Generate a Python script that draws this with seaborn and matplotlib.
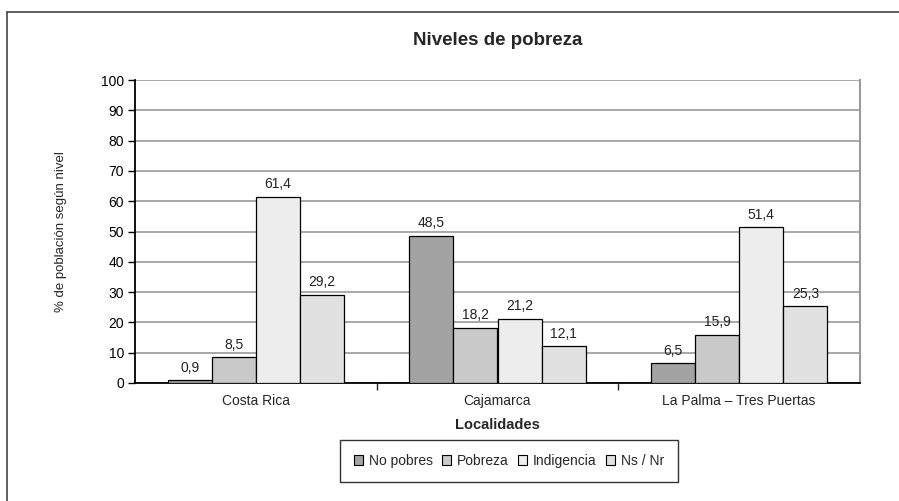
import pandas as pd
import seaborn as sns
import matplotlib.pyplot as plt
from matplotlib.patches import Patch
from matplotlib.lines import Line2D

# data
localidades = ["Costa Rica", "Cajamarca", "La Palma \u2013 Tres Puertas"]
niveles = ["No pobres", "Pobreza", "Indigencia", "Ns / Nr"]
no_pobres = [0.9, 48.5, 6.5]
pobreza = [8.5, 18.2, 15.9]
indigencia = [61.4, 21.2, 51.4]
ns_nr = [29.2, 12.1, 25.3]

colores = ["#a3a3a3", "#c9c9c9", "#ededed", "#e1e1e1"]

df = pd.DataFrame({
    "Localidad": localidades * 4,
    "Nivel": [n for n in niveles for _ in localidades],
    "Valor": no_pobres + pobreza + indigencia + ns_nr,
})

sns.set_theme(style="white")
plt.rcParams["font.family"] = ["Liberation Sans", "DejaVu Sans"]

fig = plt.figure(figsize=(8.99, 5.01), dpi=100)
ax = fig.add_axes([135 / 899, 1 - 383 / 501, 725 / 899, 303 / 501])

sns.barplot(data=df, x="Localidad", y="Valor", hue="Nivel", order=localidades,
            hue_order=niveles, palette=colores, edgecolor="black", linewidth=0.9,
            width=0.73, gap=0, saturation=1, ax=ax, legend=False, zorder=3)

for cont in ax.containers:
    labs = [f"{v:.1f}".replace(".", ",") for v in cont.datavalues]
    ax.bar_label(cont, labels=labs, padding=4, fontsize=10, color="#222222")

ax.set_ylim(0, 100)
ax.set_yticks(range(0, 101, 10))
ax.set_xlim(-0.5, 2.5)
ax.yaxis.grid(True, color="#9a9a9a", linewidth=1.2, zorder=0)
ax.set_axisbelow(True)

for s in ["left", "bottom"]:
    ax.spines[s].set_color("black")
    ax.spines[s].set_linewidth(1.3)
ax.spines["top"].set_visible(False)
ax.spines["right"].set_color("#9a9a9a")
ax.spines["right"].set_linewidth(1.5)

ax.tick_params(axis="y", left=True, direction="out", length=5, width=1,
               labelsize=10, colors="black", pad=3)
ax.tick_params(axis="x", bottom=False, labelsize=10, pad=2)
# small separators between categories on the x axis
ax.set_xticks([0.5, 1.5], minor=True)
ax.tick_params(axis="x", which="minor", bottom=True, direction="out", length=5, width=1)

ax.set_ylabel("% de población según nivel", fontsize=9.5, labelpad=24)
ax.set_xlabel("Localidades", fontsize=10.5, fontweight="bold", labelpad=7)
ax.set_title("Niveles de pobreza", fontsize=13.5, fontweight="bold", pad=25)

handles = [Patch(facecolor=c, edgecolor="black", linewidth=0.8) for c in colores]
leg = fig.legend(handles, niveles, loc="center", bbox_to_anchor=(509 / 899, 1 - 461 / 501),
                 ncol=4, fontsize=10, frameon=True, fancybox=False, handlelength=0.65,
                 handleheight=0.65, handletextpad=0.4, columnspacing=0.7,
                 borderpad=1.0, edgecolor="black")
leg.get_frame().set_linewidth(1.0)

# outer frame (top and left edges)
fig.add_artist(Line2D([7 / 899, 7 / 899], [0, 1 - 12 / 501], transform=fig.transFigure,
                      color="#444444", linewidth=1.2))
fig.add_artist(Line2D([7 / 899, 1], [1 - 12 / 501, 1 - 12 / 501], transform=fig.transFigure,
                      color="#444444", linewidth=1.2))

fig.savefig("out.png", dpi=100)
